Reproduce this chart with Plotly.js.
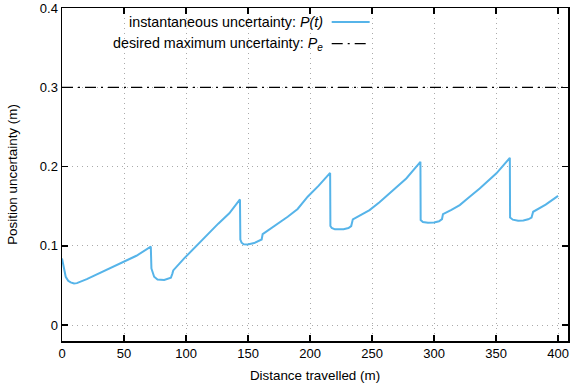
<!DOCTYPE html>
<html>
<head>
<meta charset="utf-8">
<script src="https://cdn.plot.ly/plotly-3.0.1.min.js"></script>
<style>
  html, body { margin: 0; padding: 0; background: #fff; }
  #plot { width: 574px; height: 388px; }
</style>
</head>
<body>
<div id="plot"></div>
<script>
// Distance travelled (m)
const distance = [
    0, 1, 2, 3, 5, 7, 9.7, 12, 20, 30, 40, 50, 60, 71.6,
    72.1, 74.3, 77, 82.4, 87.8, 89, 89.7,
    98.5, 108, 118.7, 126, 134.9, 143.5,
    143.8, 144.8, 146.5, 149.7, 155, 159.1, 161, 161.8,
    170, 182, 190, 198.1, 207, 216.2,
    216.4, 217.5, 220, 222.4, 227, 231, 233.2, 234.5,
    241, 248, 256, 264.1, 277.6, 289.0,
    289.2, 291, 295.1, 300, 304, 306.4, 307.2,
    314, 320.7, 328, 336.8, 350.3, 361.1,
    361.3, 363.5, 367.8, 372, 375.9, 378.6, 379.9,
    390, 400
];
// Instantaneous position uncertainty P(t) (m)
const uncertainty = [
    0.084, 0.075, 0.066, 0.061, 0.056, 0.054, 0.0526, 0.053, 0.058, 0.0655, 0.073, 0.080, 0.0875, 0.099,
    0.0715, 0.061, 0.0576, 0.057, 0.0597, 0.065, 0.069,
    0.0842, 0.0995, 0.1157, 0.128, 0.141, 0.1585,
    0.108, 0.104, 0.102, 0.1018, 0.1035, 0.1063, 0.108, 0.1148,
    0.1235, 0.1367, 0.1465, 0.162, 0.176, 0.192,
    0.125, 0.1225, 0.1208, 0.1206, 0.121, 0.1225, 0.125, 0.1334,
    0.139, 0.1451, 0.155, 0.1662, 0.185, 0.206,
    0.1325, 0.130, 0.129, 0.1295, 0.131, 0.1338, 0.140,
    0.1455, 0.1514, 0.161, 0.1722, 0.1915, 0.2110,
    0.1357, 0.133, 0.1316, 0.132, 0.1335, 0.1357, 0.143,
    0.152, 0.163
];
// Desired maximum uncertainty P_e (m)
const desiredMax = 0.3;

const xRange = [0, 408];
const yRange = [-0.02, 0.4];
const xTicks = [0, 50, 100, 150, 200, 250, 300, 350, 400];
const yTicks = [0, 0.1, 0.2, 0.3, 0.4];

const lineBlue = '#56b4e9';
const dashDot = '11px,5px,2px,5px';
const family = 'Liberation Sans, Arial, sans-serif';
const tickFont = { family: family, size: 13, color: '#000' };
const titleFont = { family: family, size: 13.4, color: '#000' };
const keyFont = { family: family, size: 14.3, color: '#000' };

const traces = [
    {
        x: distance,
        y: uncertainty,
        type: 'scatter',
        mode: 'lines',
        line: { color: lineBlue, width: 2 },
        hoverinfo: 'skip'
    },
    {
        x: xRange,
        y: [desiredMax, desiredMax],
        type: 'scatter',
        mode: 'lines',
        line: { color: '#000', width: 1.3, dash: dashDot },
        hoverinfo: 'skip'
    }
];

const axisCommon = {
    showline: true,
    linecolor: '#000',
    linewidth: 1.5,
    mirror: 'ticks',
    ticks: 'inside',
    ticklen: 6,
    tickwidth: 1.3,
    tickcolor: '#000',
    showgrid: true,
    gridcolor: '#aaaaaa',
    gridwidth: 1,
    griddash: '1px,4px',
    zeroline: false,
    tickfont: tickFont,
    ticklabeloverflow: 'allow'
};

const layout = {
    width: 574,
    height: 388,
    showlegend: false,
    paper_bgcolor: '#fff',
    plot_bgcolor: '#fff',
    font: tickFont,
    margin: { l: 62, r: 6, t: 8, b: 47 },
    xaxis: Object.assign({}, axisCommon, {
        range: xRange,
        tickvals: xTicks,
        title: { text: 'Distance travelled (m)', font: titleFont, standoff: 10 }
    }),
    yaxis: Object.assign({}, axisCommon, {
        range: yRange,
        tickvals: yTicks,
        title: { text: 'Position uncertainty (m)', font: titleFont, standoff: 19 }
    }),
    // key drawn gnuplot style: text right-aligned, sample to the right
    annotations: [
        {
            xref: 'paper', yref: 'paper', x: 0.52, y: 0.958,
            xanchor: 'right', yanchor: 'middle', showarrow: false,
            text: 'instantaneous uncertainty: <i>P(t)</i>', font: keyFont
        },
        {
            xref: 'paper', yref: 'paper', x: 0.52, y: 0.893,
            xanchor: 'right', yanchor: 'middle', showarrow: false,
            text: 'desired maximum uncertainty: <i>P<sub>e</sub></i>', font: keyFont
        }
    ],
    shapes: [
        {
            type: 'line', xref: 'paper', yref: 'paper',
            x0: 0.533, x1: 0.608, y0: 0.958, y1: 0.958,
            line: { color: lineBlue, width: 2 }
        },
        {
            type: 'line', xref: 'paper', yref: 'paper',
            x0: 0.533, x1: 0.608, y0: 0.893, y1: 0.893,
            line: { color: '#000', width: 1.3, dash: dashDot }
        }
    ]
};

const config = {
    displayModeBar: false,
    staticPlot: true
};

Plotly.newPlot('plot', traces, layout, config);
</script>
</body>
</html>
